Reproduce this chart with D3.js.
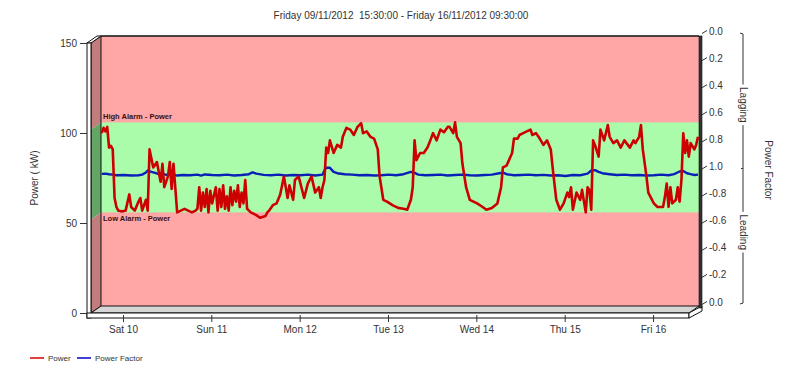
<!DOCTYPE html>
<html>
<head>
<meta charset="utf-8">
<script src="https://cdn.jsdelivr.net/npm/d3@7"></script>
<style>
  body { margin: 0; background: #fff; }
  svg { font-family: "Liberation Sans", Arial, sans-serif; }
</style>
</head>
<body>
<div id="chart"></div>
<script>
// data (hours after the start, kW / power factor)
var startTime = new Date(2012, 10, 9, 15, 30);
var endTime = new Date(2012, 10, 16, 9, 30);
var titleText = "Friday 09/11/2012  15:30:00 - Friday 16/11/2012 09:30:00";

var highAlarm = 102, lowAlarm = 52;
var powerTicks = [0, 50, 100, 150];
var pfTicks = [0, 0.2, 0.4, 0.6, 0.8, 1, 1.2, 1.4, 1.6, 1.8, 2];

var powerHours = [0,0.5,1,1.5,2,2.5,3,3.5,4,4.5,5.5,6.5,7.5,8,9,10,10.5,11,12,12.5,13,14,15,16,16.5,17,18,18.5,19,19.5,
  20.5,21.5,22.5,23.5,24.5,25.5,26,26.5,27,27.5,28,28.5,29,29.5,30,31,31.5,32,32.5,33,33.5,34,34.5,35,35.5,36,36.5,37,37.5,38,38.5,39,39.5,
  40.5,42,43,44.5,45,45.5,46.5,47.5,48.5,49.5,50.5,51,52,52.5,53.5,55,56,57,58,59,59.5,60,60.5,61,61.5,62,63,64,65,65.5,66.5,67.5,68.5,69.5,70.5,71,72,73,74,75,75.5,76.5,77.5,79,80.5,
  82,83,84,84.5,85,85.5,86.5,87.5,88.5,89,90,91,92,93,94,94.5,95.5,96,96.5,97.5,98,99,100,101,102,103.5,104.5,106,107.5,108.5,109,110,111.5,112,113,113.5,114.5,115.5,116.5,117,118,119,120,121,122,122.5,123.5,124.5,125.5,126.5,127,127.5,128,129,130,130.5,131.5,132,132.5,133,133.5,134,135,135.5,136.5,137.5,138,139,140,141,142,143.5,144.5,145,146,146.5,147,148,148.5,150,151,152.5,153,153.5,154,154.5,155,156,156.5,157,157.5,158,158.5,159,159.5,160,161,161.5,162];
var powerKW = [96,99,97,99.5,88,89,87,60,55,53,52.5,53,62,55,53,58,60,53,59,53,87,77,80,69,79,66,72,80,65,79,
  52,53,54,53,52,53,54,66,53,63,55,65,52,64,57,66,53,65,55,67,54,61,53,66,56,64,58,67,55,63,57,70,54,
  52,50.5,49,50,52,53,56,57,62,72,60,67,59,70,72,60,68,72,63,66,60,66,70,88,85,92,85,89.5,88,94,99,98,95,99.5,101.5,96,97,94,93,87,72,59,58,56,54.5,
  54,53.5,59,66,92,81,85,85,88,90.5,96,92,98,96.5,99.5,99.5,96,102,94,90.5,79,66,59,58,57,55,53.5,54.5,57,66,77,78,85,93,93,95,96,97,98,95,96,93,89.5,92,87,77,59,53.5,57,63,60.5,66,53.5,63,59,64.5,52,66,64.5,53.5,92,89.5,83,98,92,100.5,94,90.5,92,88,92,88,92,90.5,94,100.5,87,72,63,57,55,55,60.5,68,55,66,57,59,66,58,70,96,85,92,83,90.5,87,89.5,94];

var pfHours = [0,1,2,3,4,6,8,10,11,12,12.5,13.5,14.5,15.5,16.5,17.5,18.5,19.5,20.5,22,24,26,27,28,30,32,34,36,38,40,41,42,44,46,48,50,52,54,56,58,60,60.5,61,62,63,64,66,68,70,72,74,76,78,80,82,84,85,86,88,90,92,94,96,98,100,102,104,106,108,109,110,112,114,116,118,120,122,124,126,128,130,132,133,134,135,136,138,140,142,144,146,148,150,152,154,155.5,157,158,159,160,161,162];
var pfValues = [-0.96,-0.962,-0.958,-0.955,-0.95,-0.952,-0.948,-0.95,-0.955,-0.97,-0.985,-0.975,-0.968,-0.958,-0.965,-0.952,-0.962,-0.955,-0.948,-0.952,-0.95,-0.955,-0.948,-0.956,-0.952,-0.95,-0.955,-0.948,-0.952,-0.958,-0.972,-0.962,-0.953,-0.95,-0.955,-0.948,-0.952,-0.95,-0.955,-0.948,-0.955,-0.985,0.995,0.995,-0.975,-0.965,-0.958,-0.955,-0.95,-0.952,-0.948,-0.95,-0.955,-0.95,-0.958,-0.975,-0.968,-0.955,-0.95,-0.952,-0.955,-0.948,-0.952,-0.955,-0.95,-0.948,-0.952,-0.955,-0.965,-0.97,-0.958,-0.95,-0.952,-0.955,-0.95,-0.953,-0.948,-0.95,-0.945,-0.952,-0.95,-0.962,-0.985,-0.988,-0.975,-0.965,-0.958,-0.952,-0.955,-0.95,-0.952,-0.948,-0.95,-0.955,-0.95,-0.958,-0.978,-0.982,-0.965,-0.958,-0.952,-0.955];

// 3d depth offset between front and back planes
var dx = 10, dy = -7;

var svg = d3.select("#chart").append("svg")
  .attr("width", 800).attr("height", 379);

var x = d3.scaleTime().domain([startTime, endTime]).range([91.7, 688]);
var y = d3.scaleLinear().domain([0, 150]).range([313, 43]);
// power factor axis: 0 lagging at top, 1 in the middle, 0 leading at bottom
var pfY = d3.scaleLinear().domain([0, 2]).range([33, 304]);
function pfPos(v) { return v >= 0 ? v : 2 + v; }
function hourDate(h) { return new Date(startTime.getTime() + h * 3600000); }

var backL = 101, backR = 699, backT = y(150) + dy, backB = y(0) + dy;

// title
svg.append("text").attr("x", 401).attr("y", 19).attr("text-anchor", "middle")
  .style("font-size", "10px").style("white-space", "pre").attr("fill", "#333").text(titleText);

// back wall with alarm bands
svg.append("rect").attr("x", backL).attr("y", backT).attr("width", backR - backL).attr("height", backB - backT)
  .attr("fill", "#ffa6a6");
svg.append("rect").attr("x", backL).attr("y", y(highAlarm) + dy).attr("width", backR - backL)
  .attr("height", y(lowAlarm) - y(highAlarm)).attr("fill", "#abfcaa");

// left side wall (darker bands)
var sideBands = [[150, highAlarm, "#c27c7c"], [highAlarm, lowAlarm, "#63a563"], [lowAlarm, 0, "#c27c7c"]];
svg.selectAll(".side").data(sideBands).enter().append("polygon")
  .attr("points", function(d) {
    return [[91, y(d[0])], [backL, y(d[0]) + dy], [backL, y(d[1]) + dy], [91, y(d[1])]].join(" ");
  })
  .attr("fill", function(d) { return d[2]; });
svg.append("polygon").attr("points", [[91, y(150)], [backL, backT], [backL, backB], [91, y(0)]].join(" "))
  .attr("fill", "none").attr("stroke", "#111").attr("stroke-width", 1);
svg.append("line").attr("x1", backL).attr("x2", backR).attr("y1", backT).attr("y2", backT)
  .attr("stroke", "#111").attr("stroke-width", 1.5);
svg.append("polygon").attr("points", [[87, y(150)], [91, y(150)], [backL, backT], [97, backT]].join(" "))
  .attr("fill", "#fff").attr("stroke", "#111");
svg.append("rect").attr("x", 87).attr("y", y(150)).attr("width", 4).attr("height", y(0) - y(150) + 5)
  .attr("fill", "#fff").attr("stroke", "#111");

// floor
svg.append("polygon").attr("points", [[91, y(0)], [backL, backB], [backR, backB], [689, y(0)]].join(" "))
  .attr("fill", "#d6d6d6").attr("stroke", "#111");
svg.append("rect").attr("x", 87).attr("y", y(0)).attr("width", 602).attr("height", 5)
  .attr("fill", "#fff").attr("stroke", "#111");
svg.append("polygon").attr("points", [[689, y(0)], [backR + 3, backB], [backR + 3, backB + 5], [689, y(0) + 5]].join(" "))
  .attr("fill", "#fff").attr("stroke", "#111");

// right wall edge
svg.append("rect").attr("x", backR).attr("y", backT).attr("width", 3).attr("height", backB - backT + 2)
  .attr("fill", "#333").attr("stroke", "#111").attr("stroke-width", 0.6);

// alarm labels
svg.append("text").attr("x", 103).attr("y", y(highAlarm) + dy - 3)
  .style("font-size", "7.5px").style("font-weight", "bold").attr("fill", "#3a1010").text("High Alarm - Power");
svg.append("text").attr("x", 103).attr("y", y(lowAlarm) + dy + 9)
  .style("font-size", "7.5px").style("font-weight", "bold").attr("fill", "#3a1010").text("Low Alarm - Power");

// data lines on the back plane
var powerData = powerHours.map(function(h, i) { return [hourDate(h), powerKW[i]]; });
var pfData = pfHours.map(function(h, i) { return [hourDate(h), pfValues[i]]; });

svg.append("path").datum(pfData)
  .attr("fill", "none").attr("stroke", "#0a1fb8").attr("stroke-width", 2.4).attr("stroke-linejoin", "round")
  .attr("d", d3.line()
    .x(function(d) { return x(d[0]) + dx; })
    .y(function(d) { return pfY(pfPos(d[1])); }));

svg.append("path").datum(powerData)
  .attr("fill", "none").attr("stroke", "#cc0000").attr("stroke-width", 2.6).attr("stroke-linejoin", "round")
  .attr("d", d3.line()
    .x(function(d) { return x(d[0]) + dx; })
    .y(function(d) { return y(d[1]) + dy; }));

// left axis
var gy = svg.append("g").attr("transform", "translate(87,0)")
  .call(d3.axisLeft(y).tickValues(powerTicks).tickSize(7).tickPadding(3));
gy.select(".domain").remove();
gy.selectAll("text").style("font-size", "10px").attr("fill", "#333");
gy.selectAll("line").attr("stroke", "#333");

// bottom axis
var gx = svg.append("g").attr("transform", "translate(0," + (y(0) + 2) + ")")
  .call(d3.axisBottom(x).ticks(d3.timeDay.every(1)).tickFormat(d3.timeFormat("%a %d")).tickSize(7).tickPadding(4));
gx.select(".domain").remove();
gx.selectAll("text").style("font-size", "10px").attr("fill", "#333");
gx.selectAll("line").attr("stroke", "#333");

// right axis with slanted ticks
var gr = svg.append("g").attr("transform", "translate(" + (backR + 3) + ",0)")
  .call(d3.axisRight(pfY).tickValues(pfTicks).tickSize(5).tickPadding(2)
    .tickFormat(function(v) {
      if (v <= 1) return v.toFixed(1);
      var l = 2 - v;
      return l < 0.01 ? "0.0" : "-" + l.toFixed(1);
    }));
gr.select(".domain").remove();
gr.selectAll(".tick line").attr("y2", -3).attr("stroke", "#333");
gr.selectAll("text").style("font-size", "10px").attr("fill", "#333").attr("dy", "0.1em");

// axis titles
svg.append("text").attr("transform", "translate(38,178) rotate(-90)").attr("text-anchor", "middle")
  .style("font-size", "10px").attr("fill", "#333").text("Power ( kW)");
svg.append("text").attr("transform", "translate(765,170) rotate(90)").attr("text-anchor", "middle")
  .style("font-size", "10px").attr("fill", "#333").text("Power Factor");

// lagging / leading bracket
var bx = 743;
var bracket = [
  [[bx - 3, pfY(0)], [bx, pfY(0) + 1], [bx, pfY(0.38)]],
  [[bx, pfY(0.68)], [bx, pfY(1.32)]],
  [[bx, pfY(1.62)], [bx, pfY(2) - 1], [bx - 3, pfY(2)]]
];
svg.selectAll(".br").data(bracket).enter().append("path")
  .attr("d", d3.line()).attr("fill", "none").attr("stroke", "#333").attr("stroke-width", 1);
svg.append("line").attr("x1", bx - 2).attr("x2", bx).attr("y1", pfY(1)).attr("y2", pfY(1)).attr("stroke", "#333");
svg.append("text").attr("transform", "translate(" + (bx - 3) + "," + pfY(0.53) + ") rotate(90)").attr("text-anchor", "middle")
  .style("font-size", "10px").attr("fill", "#333").text("Lagging");
svg.append("text").attr("transform", "translate(" + (bx - 3) + "," + pfY(1.47) + ") rotate(90)").attr("text-anchor", "middle")
  .style("font-size", "10px").attr("fill", "#333").text("Leading");

// legend
var legend = [["Power", "#dd0000", 30], ["Power Factor", "#0000cc", 77]];
var lg = svg.selectAll(".lg").data(legend).enter().append("g");
lg.append("line").attr("x1", function(d) { return d[2]; }).attr("x2", function(d) { return d[2] + 14; })
  .attr("y1", 358).attr("y2", 358).attr("stroke", function(d) { return d[1]; }).attr("stroke-width", 1.5);
lg.append("text").attr("x", function(d) { return d[2] + 18; }).attr("y", 361)
  .style("font-size", "8px").attr("fill", "#333").text(function(d) { return d[0]; });
</script>
</body>
</html>
